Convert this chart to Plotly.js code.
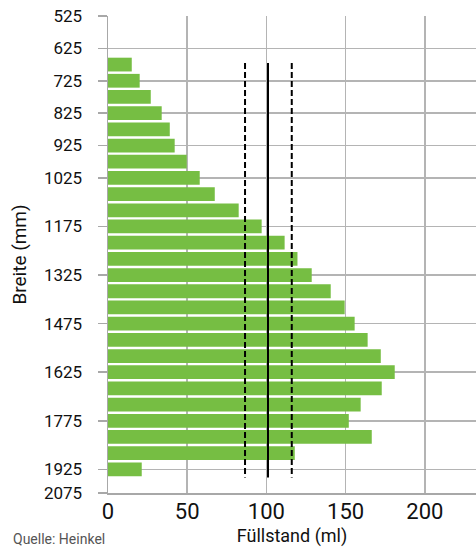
<!DOCTYPE html>
<html>
<head>
<meta charset="utf-8">
<script src="https://cdn.plot.ly/plotly-3.0.1.min.js"></script>
<style>html,body{margin:0;padding:0;background:#fff;}#chart{width:476px;height:547px;}</style>
</head>
<body>
<div id="chart"></div>
<script>
// Breite (mm) categories for each bar
const widthsMm = [675, 725, 775, 825, 875, 925, 975, 1025, 1075, 1125, 1175, 1225, 1275,
                  1325, 1375, 1425, 1475, 1525, 1575, 1625, 1675, 1725, 1775, 1825, 1875, 1925];
// Füllstand (ml) per width
const fillLevels = [15.0, 20.0, 27.0, 33.9, 39.0, 42.1, 49.7, 57.9, 67.4, 82.5, 97.0, 111.5, 119.6,
                    128.6, 140.6, 149.4, 155.7, 163.9, 172.2, 181.0, 172.8, 159.5, 152.0, 166.5, 117.9, 21.3];
// Reference lines (ml)
const meanLevel = 101;
const lowerLevel = 86.5;
const upperLevel = 116;
const refSpan = [670, 1950];
// Axis ticks
const yTickVals = [525, 625, 725, 825, 925, 1025, 1175, 1325, 1475, 1625, 1775, 1925, 1998];
const yTickText = ['525', '625', '725', '825', '925', '1025', '1175', '1325', '1475', '1625', '1775', '1925', '2075'];
const xTickVals = [0, 50, 100, 150, 200];

const font = 'Roboto, "Liberation Sans", Arial, sans-serif';
const gridColor = '#b4b4b4';

const traces = [
  {
    type: 'bar', orientation: 'h',
    x: fillLevels, y: widthsMm,
    marker: {color: '#76be43', line: {width: 0}},
    hoverinfo: 'x+y'
  },
  {
    type: 'scatter', mode: 'lines',
    x: [lowerLevel, lowerLevel], y: refSpan,
    line: {color: '#000', width: 2, dash: '6px,3px'}
  },
  {
    type: 'scatter', mode: 'lines',
    x: [meanLevel, meanLevel], y: refSpan,
    line: {color: '#000', width: 2}
  },
  {
    type: 'scatter', mode: 'lines',
    x: [upperLevel, upperLevel], y: refSpan,
    line: {color: '#000', width: 2, dash: '6px,3px'}
  }
];

const layout = {
  width: 476, height: 547,
  margin: {l: 108, r: 0, t: 16, b: 54, pad: 0},
  paper_bgcolor: '#fff', plot_bgcolor: '#fff',
  showlegend: false,
  bargap: 0.15,
  font: {family: font, color: '#111'},
  xaxis: {
    range: [0, 232.3],
    tickmode: 'array', tickvals: xTickVals,
    showgrid: true, gridcolor: gridColor, gridwidth: 1.5,
    zeroline: false,
    showline: true, linecolor: '#a8a8a8', linewidth: 1.5,
    ticks: '',
    ticklabelstandoff: -2,
    tickfont: {family: font, size: 22, color: '#111'},
    title: {text: 'Füllstand (ml)', font: {family: font, size: 18, color: '#111'}, standoff: 6}
  },
  yaxis: {
    range: [1998, 525],
    tickmode: 'array', tickvals: yTickVals, ticktext: yTickText,
    showgrid: true, gridcolor: gridColor, gridwidth: 1.5,
    zeroline: false,
    showline: true, linecolor: '#a8a8a8', linewidth: 1.5,
    ticks: 'outside', ticklen: 9, tickwidth: 1.5, tickcolor: '#a8a8a8',
    ticklabelstandoff: 12,
    tickfont: {family: font, size: 17, color: '#111'},
    title: {text: 'Breite (mm)', font: {family: font, size: 19, color: '#111'}, standoff: 12}
  },
  annotations: [
    {
      text: 'Quelle: Heinkel', xref: 'paper', yref: 'paper',
      x: -0.2636, y: -0.0964, xanchor: 'left', yanchor: 'middle',
      showarrow: false, font: {family: font, size: 14, color: '#555'}
    }
  ]
};

Plotly.newPlot('chart', traces, layout, {displayModeBar: false, staticPlot: true});
</script>
</body>
</html>
